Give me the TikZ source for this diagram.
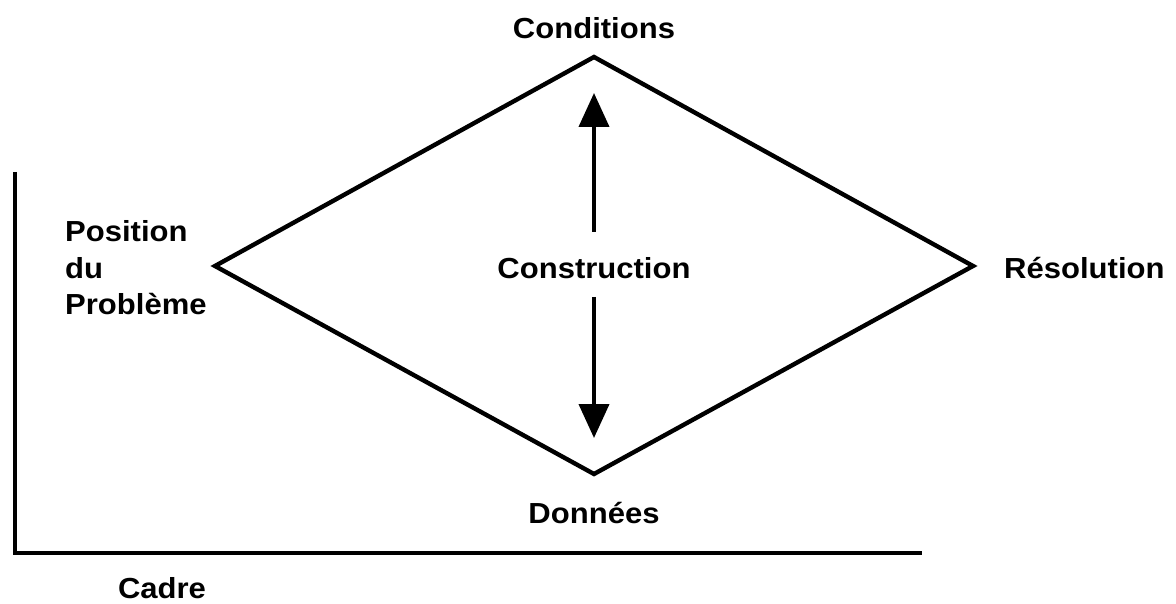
\documentclass[tikz,border=0pt]{standalone}
\usepackage{fontspec}
\setmainfont{Liberation Sans}
\usetikzlibrary{arrows.meta}
\begin{document}
\begin{tikzpicture}[x=1pt,y=-1pt,
  lbl/.style={font=\fontsize{29}{36.5}\selectfont\bfseries, inner sep=0pt, xscale=1.07},
  edge/.style={line width=4.4pt, line join=miter},
  frame/.style={line width=4.4pt},
  arr/.style={line width=4pt, -{Triangle[length=34pt,width=30pt]}}]
\useasboundingbox (0,0) rectangle (1176,604);
\coordinate (T) at (594,57);
\coordinate (B) at (594,474);
\coordinate (L) at (215,266);
\coordinate (R) at (973,266);
\draw[edge] (T) -- (R) -- (B) -- (L) -- cycle;
\node[lbl] (cond) at (594,28) {Conditions};
\node[lbl] (donn) at (594,513) {Données};
\node[lbl] (cons) at (594,268) {Construction};
\node[lbl, anchor=west] (reso) at (1004,268) {Résolution};
\node[lbl, anchor=west, align=left] (pos) at (65,268) {Position\\du\\Problème};
\node[lbl] (cadre) at (162,588) {Cadre};
\coordinate (upS) at (594,232);
\coordinate (upE) at (594,93);
\coordinate (dnS) at (594,297);
\coordinate (dnE) at (594,438);
\draw[arr] (upS) -- (upE);
\draw[arr] (dnS) -- (dnE);
\coordinate (f1) at (15,172);
\coordinate (f2) at (15,553);
\coordinate (f3) at (922,553);
\draw[frame] (f1) -- (f2) -- (f3);
\end{tikzpicture}
\end{document}
